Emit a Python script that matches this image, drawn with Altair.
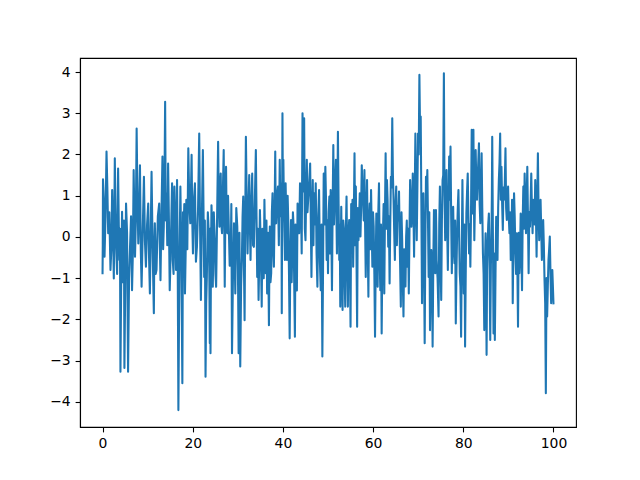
import altair as alt
import pandas as pd

# sample positions and values (visible peaks and troughs)
xs = [
    0.0, 0.1, 0.44, 0.88, 1.25, 1.76, 2.13, 2.5, 2.72, 3.01, 3.45, 3.75, 3.97, 4.33, 4.63, 4.85, 5.21, 5.66, 6.1, 6.54, 6.9,
    7.2, 7.56, 7.93, 8.3, 8.66, 9.18, 9.62, 10.13, 10.5, 10.87, 11.38, 11.6, 11.97, 12.56, 12.85, 13.29, 13.58, 13.88, 14.17, 14.54, 14.9, 15.42,
    15.57, 15.93, 16.3, 16.52, 16.82, 17.26, 17.7, 17.99, 18.28, 18.58, 19.02, 19.46, 19.75, 20.05, 20.49, 20.93, 21.44, 21.81, 22.25, 22.54, 22.84, 23.13, 23.57, 23.79,
    23.94, 24.16, 24.45, 24.89, 25.19, 25.63, 25.92, 26.21, 26.5, 26.87, 27.1, 27.39, 27.68, 27.98, 28.42, 28.71, 29.15, 29.44, 29.88, 30.18, 30.54, 30.91, 31.2, 31.5, 31.79,
    32.16, 32.53, 32.82, 33.19, 33.56, 34.0, 34.3, 34.6, 34.9, 35.3, 35.6, 35.9, 36.2, 36.5, 36.9, 37.1, 37.4, 37.7, 38.0, 38.3, 38.5, 38.9, 39.3, 39.6, 39.75, 39.9, 40.1,
    40.45, 40.6, 40.9, 41.2, 41.5, 41.8, 42.07, 42.37, 42.66, 42.95, 43.25, 43.61, 43.98, 44.35, 44.71, 45.01, 45.3, 45.6, 46.04, 46.33, 46.62, 46.92, 47.28, 47.65, 48.02, 48.39, 48.75,
    49.05, 49.41, 49.71, 50.0, 50.3, 50.59, 50.88, 51.18, 51.47, 51.76, 51.98, 52.2, 52.5, 52.72, 52.94, 53.23, 53.53, 53.82, 54.11, 54.41, 54.7, 55.0, 55.29, 55.58, 55.88, 56.17, 56.46, 56.76, 57.05,
    57.2, 57.49, 57.78, 58.08, 58.37, 58.66, 58.96, 59.25, 59.55, 59.84, 60.13, 60.43, 60.72, 61.01, 61.31, 61.6, 61.9, 62.19, 62.48, 62.78, 63.07, 63.36, 63.66, 63.95, 64.25, 64.54, 64.83, 65.13, 65.42,
    65.75, 66.15, 66.45, 66.74, 67.04, 67.33, 67.62, 67.92, 68.21, 68.5, 68.8, 69.09, 69.38, 69.68, 69.97, 70.27, 70.56, 70.85, 71.15, 71.44, 71.73, 72.03, 72.32, 72.62, 72.91, 73.2, 73.5, 73.79,
    73.94, 74.08, 74.52, 74.82, 75.11, 75.41, 75.7, 75.99, 76.29, 76.58, 76.87, 77.17, 77.46, 77.76, 78.05, 78.34, 78.64, 78.93, 79.22, 79.52, 79.81, 80.1, 80.4, 80.69, 80.99, 81.28, 81.57, 81.87,
    82.05, 82.25, 82.45, 82.75, 83.04, 83.48, 83.78, 84.07, 84.36, 84.66, 84.95, 85.17, 85.39, 85.68, 85.98, 86.27, 86.42, 86.71, 87.0, 87.3, 87.59, 87.89, 88.18, 88.47, 88.77, 89.06, 89.36, 89.65, 89.94, 90.24, 90.53, 90.82,
    90.97, 91.26, 91.56, 91.85, 92.14, 92.44, 92.73, 93.03, 93.32, 93.61, 93.91, 94.2, 94.49, 94.79, 95.08, 95.37, 95.67, 95.96, 96.26, 96.55, 96.84, 97.14, 97.43, 97.72, 98.02, 98.31, 98.6, 98.9, 99.19, 99.49, 99.75, 100.0,
]
ys = [
    -0.88, 1.40, -0.48, 2.07, 0.09, -0.80, 1.14, -1.01, 1.91, -0.24, 1.66, -0.56, -3.27, 0.61, -0.24, -3.18, 0.81, -3.27, -0.24, -1.29, 1.62,
    -0.48, 2.63, -0.16, 1.74, -1.21, 1.46, -0.72, 0.81, -1.37, 1.58, -1.85, 0.33, -0.80, 0.81, -1.05, 1.95, 0.25, 3.28, 1.06, 1.78, -1.29, 1.30,
    -0.56, 1.22, -0.80, 1.38, -4.20, 1.22, -3.55, 0.25, -1.37, 0.90, 2.15, 0.33, 1.99, -0.40, 1.30, -0.24, 2.51, -1.53, 2.11, -0.97, -3.39, -0.97, 0.05, -2.58,
    -2.82, 0.77, -1.21, -0.08, -1.21, 2.31, 0.25, 1.54, 0.09, 2.11, -1.21, 1.70, 0.09, 0.33, -0.56, -2.82, 0.33, -1.37, 0.25, -2.82, -3.14, -0.48, 0.98, -2.02, 2.43,
    -0.40, 1.50, -0.56, 1.54, -0.24, 2.11, -0.97, -1.53, 0.65, -1.69, -0.24, 0.90, -0.88, -1.37, -2.14, 0.25, -0.88, 1.06, -0.72, 2.07, 0.33, 1.22, 1.87, 0.98, -1.85, 3.00, 1.87,
    -0.56, 1.30, -0.56, 0.33, -2.46, 0.41, -0.40, 0.25, -2.42, -0.24, 0.81, 0.09, 1.06, 3.00, 2.88, -0.08, 1.87, 0.90, 1.78, -0.97, 1.38, 1.06, 1.30, -1.21, 1.14, -1.29, -2.90,
    1.54, 1.70, -0.56, -0.88, 0.98, 1.14, -1.29, 2.23, 0.90, 1.87, -0.40, 2.55, -0.56, -1.69, 0.73, -1.77, 0.17, -1.69, 0.98, -1.69, 0.41, -2.18, 0.17, -0.72, 2.03, 1.22, -2.18, -0.08, 1.06,
    0.01, 1.74, 0.90, 1.62, -0.97, 1.38, -1.45, 0.81, 1.14, -0.72, 0.25, -2.42, 0.57, -1.21, 1.30, -1.29, -2.34, 0.09, -1.37, 2.03, 1.38, -0.24, -1.13, 1.46, 2.88, 0.90, -0.56, 1.22, 0.73,
    1.10, -1.69, -0.08, -1.93, -0.56, 0.01, -0.72, -1.37, 1.38, 0.25, 1.54, -0.48, 2.51, -0.08, 2.51, 3.93, 2.92, -1.61, 1.06, -2.58, 1.46, 1.62, -0.97, -2.26, -0.32, -2.66, 0.65, -0.88,
    0.65, -0.56, -1.93, 1.22, -1.53, 1.38, 3.97, -0.08, 1.62, -0.80, 1.95, 2.19, -0.88, 0.73, -0.64, -2.10, 0.09, 1.14, -0.88, -2.42, 1.38, -1.37, -2.66, 0.57, 1.54, -0.40, -0.72, 2.60,
    0.57, 2.60, -0.08, 2.11, 0.90, 2.27, 0.33, 2.03, -0.40, -2.26, 0.09, -2.86, -0.24, 0.57, -2.50, 0.25, 2.43, -2.34, -2.50, 0.49, -0.56, 1.38, 2.51, 1.70, 0.17, 0.90, 2.15, 0.41, 1.22, 0.09, -0.56, 0.90,
    -1.61, 1.06, -0.40, 0.09, -2.18, -0.88, 0.57, -1.29, 1.22, 1.54, 0.09, 1.70, -0.88, 0.25, 1.54, 0.09, 0.73, 1.38, -0.48, 2.03, -0.08, 0.90, -0.56, 0.41, -1.05, -3.79, -1.93, -0.56, 0.01, -1.61, -0.80, -1.61,
]
# values of the dense core between the readings above (one between each pair of neighbours)
ys_between = [
    -0.2, 0.9, 0.5, 1.2, 0.6, -0.3, 0.2, 0.4, 0.7, -0.9, 0.3, 0.2, -0.9, -1.1, 0.4, -1.2, 0.1, -1.0, 0.5, -0.4, 0.6,
    0.4, 0.9, 0.6, -0.3, 0.2, -0.1, 0.3, -0.5, 0.1, -0.4, -0.2, -0.9, 0.5, -0.2, 0.6, -0.3, 1.2, 0.4, -0.2, 0.4, -0.1, 0.8,
    -0.9, 0.3, 0.2, -0.6, -0.8, -0.5, 0.6, 0.8, -0.4, -0.3, 0.8, 1.1, 0.4, 0.9, -0.6, 0.7, 0.3, 0.5, 0.6, 0.4, -1.6, 0.6, -0.9, 0.2,
    -0.5, 0.2, 0.6, -0.9, 0.5, 0.9, 1.2, 0.3, 1.1, 0.4, 0.7, 0.2, 1.0, -0.7, 0.8, -0.9, -0.4, 0.7, -0.8, 0.1, -1.2, 0.5, -0.6, 0.4, 0.9,
    0.6, 0.3, 0.8, -0.2, 0.9, 0.5, 0.2, -0.6, -0.3, 0.2, -1.0, -0.2, 0.4, 0.1, -0.7, -1.1, 0.6, -0.3, 0.5, 0.4, 1.0, -0.2, 0.5, 1.3, 0.8, 0.9, 0.4,
    0.5, 0.4, 1.0, -0.9, -0.5, -1.1, 0.6, -1.2, 0.3, -1.3, 0.2, 1.3, -0.4, 1.1, 0.2, 1.0, 0.6, 1.3, 0.4, 0.5, -0.2, 0.3, -0.4, 0.5, -0.6, 0.3, -0.8,
    0.3, 0.9, 0.4, 0.6, -0.4, 0.2, 0.7, 0.3, 1.4, 0.5, 1.0, 0.8, 0.3, -0.3, -0.6, 0.4, -0.9, 0.2, -0.5, 0.1, -0.6, 0.8, 0.9, 0.5, -0.2, -0.4, 0.7, 0.5, 0.8,
    0.7, 1.2, 0.4, 0.3, 0.6, -0.2, 0.4, -0.3, 0.2, 0.6, -0.9, -0.7, 0.1, 0.6, -0.5, 0.3, -0.6, 0.8, 0.5, 0.2, 0.9, 0.5, 0.3, 1.2, 1.5, 0.1, 0.8, -0.2, 0.4,
    -0.4, 0.6, -1.1, -0.3, -1.2, 0.4, 0.2, 0.1, 0.8, 0.6, 0.7, 1.0, 0.9, 1.2, 2.0, 2.6, 0.8, 0.3, -0.5, -0.2, 0.9, 0.4, 0.6, -1.0, -0.9, -0.7, -0.2, 0.3,
    0.2, -1.0, 0.3, -0.6, 0.4, 1.5, 1.0, 0.8, 0.2, 0.6, 0.9, 0.5, 0.2, -0.3, 0.4, -0.8, 0.7, 0.1, -1.2, -0.4, -0.2, 0.3, -0.9, 1.1, 0.5, 0.3, 0.6, 1.5,
    1.2, 1.0, 0.9, 1.3, 1.6, 0.8, 1.1, 0.7, -0.9, -0.7, -1.0, -0.8, 0.3, -0.6, -0.7, 1.0, 0.2, -0.4, -0.9, 0.3, 0.7, 1.8, 0.9, 0.8, 1.2, 1.3, 0.7, 0.9, 0.5, 0.6, -0.2, 0.1,
    -0.2, 0.5, -0.9, -0.7, 0.1, -0.4, -0.3, 0.4, 0.2, 0.8, 0.9, 0.5, 0.6, 0.8, 0.7, 0.9, 0.3, 0.6, 0.9, 0.7, 0.5, 0.2, -0.1, -0.2, -1.6, -1.0, -1.2, -0.3, -0.9, -1.1, -1.2,
]
x_ticks = [0, 20, 40, 60, 80, 100]
y_ticks = [-4, -3, -2, -1, 0, 1, 2, 3, 4]

rows = []
for i in range(len(xs)):
    rows.append({"x": xs[i], "y": ys[i]})
    if i < len(xs) - 1 and i < len(ys_between):
        rows.append({"x": (xs[i] + xs[i + 1]) / 2, "y": ys_between[i]})
df = pd.DataFrame(rows)

axis_common = dict(
    grid=False,
    labelFont="DejaVu Sans",
    labelFontSize=13.9,
    labelColor="black",
    tickColor="black",
    tickSize=4.9,
    tickWidth=1.1,
    labelPadding=4.9,
    domainColor="black",
    domainWidth=1.1,
    title="",
    labelExpr="replace(datum.label, '-', '\u2212')",
)

chart = (
    alt.Chart(df)
    .mark_line(color="#1f77b4", strokeWidth=2.08, strokeJoin="round", strokeCap="square")
    .encode(
        x=alt.X("x:Q", scale=alt.Scale(domain=[-5, 105], nice=False, zero=False),
                axis=alt.Axis(values=x_ticks, format="d", **axis_common)),
        y=alt.Y("y:Q", scale=alt.Scale(domain=[-4.61, 4.34], nice=False, zero=False),
                axis=alt.Axis(values=y_ticks, format="d", **axis_common)),
        order="x:Q",
    )
    .properties(
        width=496,
        height=369,
        autosize=alt.AutoSizeParams(type="none"),
        padding={"left": 72, "top": 50, "right": 56, "bottom": 45},
        background="white",
    )
    .configure_view(stroke="black", strokeWidth=1.1)
)

chart.save("out.html", embed_options={"renderer": "svg", "actions": False})
